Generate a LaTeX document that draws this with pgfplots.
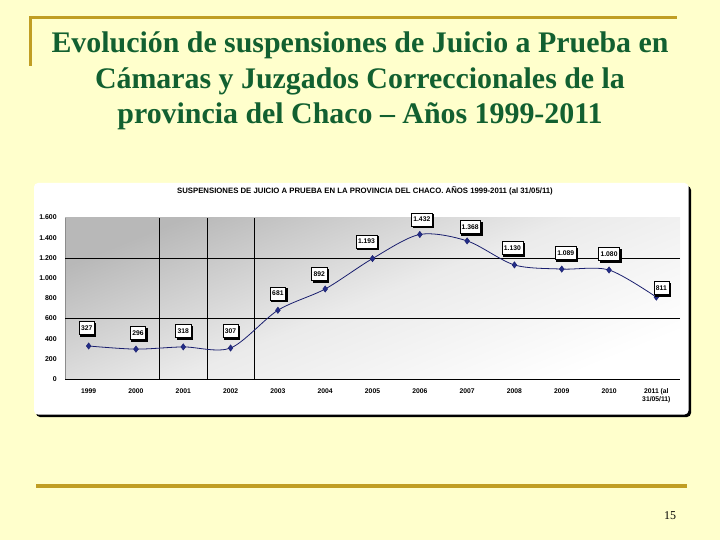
\documentclass[border=0pt]{standalone}
\usepackage{pgfplots}
\pgfplotsset{compat=1.18}
\usepackage{pgfplotstable}
\usepackage{fontspec}
\setmainfont{Liberation Serif}
\newfontfamily\arialfont{Liberation Sans}
\usetikzlibrary{shadows}
\definecolor{slidebg}{RGB}{255,255,204}
\definecolor{gold}{RGB}{192,158,36}
\definecolor{titlegreen}{RGB}{18,96,48}
\definecolor{navy}{RGB}{25,30,110}
\definecolor{marknavy}{RGB}{35,45,135}

\pgfplotstableread{
x y dx dy
0 327 -2 18
1 296 2 16
2 318 0 16
3 307 0 17
4 681 0 17
5 892 -6 15
6 1193 -6 17
7 1432 2 15
8 1368 3 14
9 1130 -2 17
10 1089 4 16
11 1080 0 16
12 811 5 9
}\datatable

\begin{document}
\begin{tikzpicture}
\begin{scope}[x=1bp,y=-1bp]
\useasboundingbox (0,0) rectangle (720,540);
\fill[slidebg] (0,0) rectangle (720,540);
% gold decorations
\draw[gold, line width=3bp] (30,66) -- (30,18) -- (677,18);
\draw[gold, line width=4bp] (36,486) -- (687,486);
% title
\node[titlegreen, font=\bfseries\fontsize{30}{35.5}\selectfont, align=center] at (360,81)
  {Evolución de suspensiones de Juicio a Prueba en\\Cámaras y Juzgados Correccionales de la\\provincia del Chaco – Años 1999-2011};
\node[font=\fontsize{12}{14}\selectfont] at (670,516) {15};
% chart box
\fill[black, rounded corners=4bp] (36,186) rectangle (691,417);
\fill[white, rounded corners=4bp] (34,183) rectangle (688.5,414.5);
\node[font=\arialfont\bfseries\fontsize{7.8}{8.5}\selectfont] at (365,191)
  {SUSPENSIONES DE JUICIO A PRUEBA EN LA PROVINCIA DEL CHACO. AÑOS 1999-2011 (al 31/05/11)};
\end{scope}
\begin{axis}[
  at={(65bp,-379bp)}, anchor=south west,
  width=615bp, height=161.5bp, scale only axis,
  xmin=-0.5, xmax=12.5, ymin=0, ymax=1600,
  axis x line*=bottom, axis y line*=left,
  x axis line style={-, black, line width=0.9pt},
  y axis line style={-, black!45, line width=0.5pt},
  axis background/.style={shade, top color=black!28, bottom color=white, middle color=black!8, shading angle=22},
  xtick={0,...,12},
  xticklabels={1999,2000,2001,2002,2003,2004,2005,2006,2007,2008,2009,2010,{2011 (al\\31/05/11)}},
  x tick style={draw=none},
  minor xtick={-0.5,0.5,...,12.5},
  minor x tick style={black, line width=0.5pt},
  minor tick length=3bp,
  tick align=outside,
  ytick={0,200,...,1600},
  y tick style={draw=none},
  extra y ticks={600,1200},
  extra y tick labels={},
  extra y tick style={grid=major, major grid style={black, line width=0.7pt}, tick style={draw=black, line width=0.7pt}, major tick length=3bp},
  extra x ticks={1.5,2.5,3.5},
  extra x tick labels={},
  extra x tick style={grid=major, major grid style={black, line width=0.7pt}, tick style={draw=none}},
  /pgf/number format/assume math mode=true,
  /pgf/number format/1000 sep={.},
  yticklabel style={font=\arialfont\bfseries\fontsize{7}{7.5}\selectfont, xshift=-0.5bp},
  xticklabel style={font=\arialfont\bfseries\fontsize{6.8}{8}\selectfont, align=center, yshift=-1.5bp},
  clip=false,
]
\addplot[navy, line width=0.8pt, smooth, mark=diamond*, mark size=3.2bp,
  mark options={fill=marknavy, draw=navy, line width=0.4pt},
  visualization depends on={\thisrow{dx}\as\dx},
  visualization depends on={\thisrow{dy}\as\dy},
  nodes near coords,
  every node near coord/.append style={anchor=center, xshift=\dx bp, yshift=\dy bp,
    font=\arialfont\bfseries\fontsize{6.8}{7}\selectfont, text=black, fill=white, draw=black,
    line width=0.3pt, inner sep=2pt, minimum height=13bp,
    /pgf/number format/assume math mode=true, /pgf/number format/1000 sep={.},
    drop shadow={shadow xshift=1.3bp, shadow yshift=-1.3bp, fill=black, opacity=1}},
] table[x=x, y=y] {\datatable};
\end{axis}
\end{tikzpicture}
\end{document}
